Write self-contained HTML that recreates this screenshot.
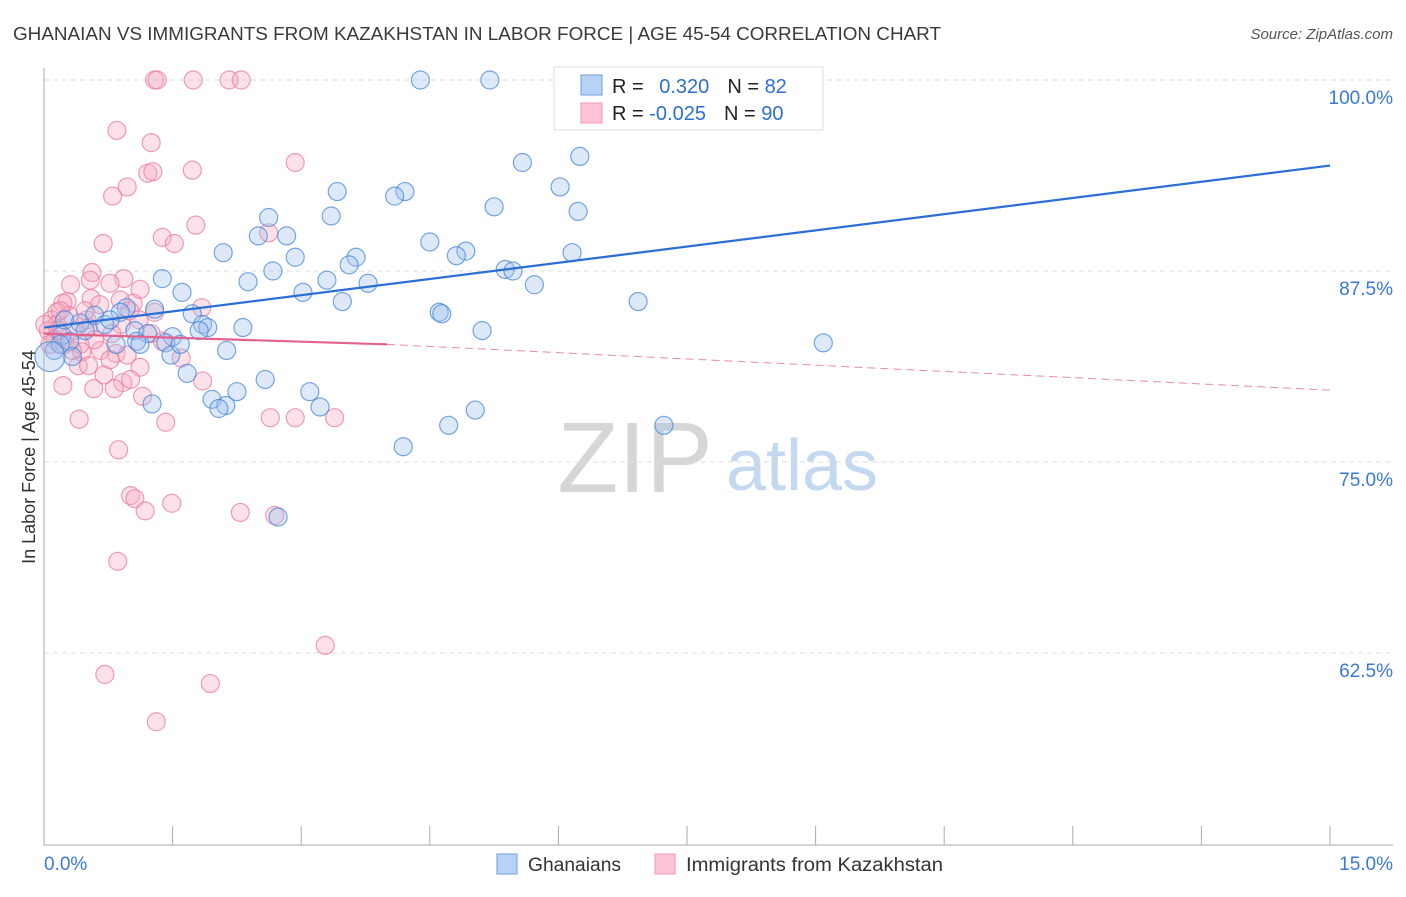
<!DOCTYPE html>
<html><head><meta charset="utf-8"><style>
body{margin:0;background:#fff;font-family:"Liberation Sans",sans-serif}
svg text{font-family:"Liberation Sans",sans-serif}
</style></head><body>
<svg id="chart" width="1406" height="892">
<text x="13" y="40" font-size="18.5" fill="#3a3a3a" textLength="928" lengthAdjust="spacingAndGlyphs">GHANAIAN VS IMMIGRANTS FROM KAZAKHSTAN IN LABOR FORCE | AGE 45-54 CORRELATION CHART</text>
<text x="1393" y="39" font-size="15" fill="#555" font-style="italic" text-anchor="end">Source: ZipAtlas.com</text>
<g><text x="635" y="492" font-size="100" fill="#d6d6d6" font-family="Liberation Serif" text-anchor="middle">ZIP</text><text x="802" y="490" font-size="72" fill="#c4d8f0" text-anchor="middle">atlas</text></g>
<g id="grid"></g><g id="axes"></g><g id="marks"></g>
<text transform="translate(35,457) rotate(-90)" font-size="18" fill="#333" text-anchor="middle">In Labor Force | Age 45-54</text>
<g>
<rect x="554" y="67" width="269" height="63" fill="#fff" stroke="#ddd"/>
<rect x="581" y="75" width="21" height="20" fill="#b8d2f4" stroke="#6a9ee0"/>
<rect x="581" y="103" width="21" height="20" fill="#fcc4d4" stroke="#ef97b2"/>
<text x="612" y="93" font-size="20" fill="#222">R = <tspan fill="#2f6fd0" dx="10">0.320</tspan><tspan dx="18" fill="#222">N = </tspan><tspan fill="#2f6fd0">82</tspan></text>
<text x="612" y="120" font-size="20" fill="#222">R = <tspan fill="#2f6fd0">-0.025</tspan><tspan dx="18" fill="#222">N = </tspan><tspan fill="#2f6fd0">90</tspan></text>
</g>
<g>
<rect x="497" y="854" width="20" height="20" fill="#b8d2f4" stroke="#6a9ee0"/>
<text x="528" y="871" font-size="19" fill="#333" textLength="93" lengthAdjust="spacingAndGlyphs">Ghanaians</text>
<rect x="655" y="854" width="20" height="20" fill="#fcc4d4" stroke="#ef97b2"/>
<text x="686" y="871" font-size="19" fill="#333" textLength="257" lengthAdjust="spacingAndGlyphs">Immigrants from Kazakhstan</text>
</g>
</svg>
<script>
const xTicks=[0,1.5,3,4.5,6,7.5,9,10.5,12,13.5,15];
const yTicks=[100,87.5,75,62.5];
const yTickLabels=["100.0%","87.5%","75.0%","62.5%"];
const xEndLabels=["0.0%","15.0%"];
const blueX=[4.39,5.20,6.25,5.58,6.02,3.42,4.21,4.09,5.25,6.23,3.35,2.62,2.50,2.83,2.09,4.50,4.92,4.81,6.16,2.93,3.64,3.56,2.67,5.38,5.47,1.38,2.38,3.30,3.78,5.72,1.61,3.02,3.48,6.93,0.96,1.29,1.73,4.61,4.64,0.89,0.59,0.42,0.71,2.32,1.85,1.91,1.81,5.11,1.06,1.21,1.50,0.21,0.30,0.84,1.08,1.42,9.09,0.33,1.48,2.13,0.12,1.67,2.58,2.25,3.10,1.96,2.12,2.04,1.26,3.22,5.03,4.72,7.23,4.19,2.73,0.19,0.48,0.77,0.24,1.59,1.12,0.07];
const blueY=[100,100,95.0,94.6,93.0,92.7,92.7,92.4,91.7,91.4,91.1,91.0,89.8,89.8,88.7,89.4,88.8,88.5,88.7,88.4,88.4,87.9,87.5,87.6,87.5,87.0,86.8,86.9,86.7,86.6,86.1,86.1,85.5,85.5,85.1,85.0,84.7,84.8,84.7,84.8,84.6,84.1,84.0,83.8,84.0,83.8,83.6,83.6,83.6,83.4,83.2,83.3,82.9,82.7,82.9,82.8,82.8,81.9,82.0,82.3,82.3,80.8,80.4,79.6,79.6,79.1,78.7,78.5,78.8,78.6,78.4,77.4,77.4,76.0,71.4,82.7,83.6,84.3,84.3,82.7,82.7,81.9];
const pinkX=[1.29,1.32,1.74,2.16,2.30,0.85,1.25,2.93,1.21,1.27,1.73,0.97,0.80,1.77,1.38,1.52,0.69,2.62,0.56,0.93,0.31,0.77,0.55,0.27,0.22,1.04,1.84,1.29,0.29,0.15,0.09,0.50,0.90,1.11,0.52,0.15,0.05,0.79,1.25,1.38,0.84,0.66,0.44,0.97,1.60,1.12,0.40,0.52,0.70,0.22,0.92,1.85,1.01,0.58,1.15,0.82,1.42,0.41,2.64,2.93,3.39,0.87,1.01,1.06,1.18,1.49,2.29,2.69,0.86,3.28,0.71,1.94,1.31,0.19,0.36,0.59,0.13,0.07,0.24,0.42,0.65,1.00,0.48,0.16,0.33,0.77,0.01,0.89,0.54,1.12];
const pinkY=[100,100,100,100,100,96.7,95.9,94.6,93.9,94.0,94.1,93.0,92.4,90.5,89.7,89.3,89.3,90.0,87.4,87.0,86.6,86.7,85.7,85.5,85.4,85.4,85.1,84.8,84.6,84.8,84.3,84.3,84.0,84.3,83.8,84.0,83.6,83.4,83.4,82.9,82.1,82.3,82.2,82.0,81.8,81.2,81.3,81.3,80.7,80.0,80.2,80.3,80.4,79.8,79.3,79.8,77.6,77.8,77.9,77.9,77.9,75.8,72.8,72.6,71.8,72.3,71.7,71.5,68.5,63.0,61.1,60.5,58.0,84.9,83.6,83.0,83.0,82.7,82.7,82.7,85.3,84.9,84.9,83.6,82.3,81.7,84.0,85.6,86.9,86.3];
const blueTrendX=[0,15], blueTrendY=[83.8,94.4];
const pinkTrendX=[0,4.0,15], pinkTrendY=[83.4,82.7,79.7];

const X0=44,X1=1330,YTOP=80,YBOT=844;
const sx=v=>X0+(v-0)/15*(X1-X0);
const sy=v=>YBOT-(v-50)/50*(YBOT-YTOP);
const NS="http://www.w3.org/2000/svg";
function mk(tag,attrs,parent){const e=document.createElementNS(NS,tag);for(const k in attrs)e.setAttribute(k,attrs[k]);parent.appendChild(e);return e;}
const grid=document.getElementById('grid'),axes=document.getElementById('axes'),marks=document.getElementById('marks');
yTicks.forEach((t,i)=>{
 const l=mk('line',{x1:X0,x2:1393,y1:sy(t),y2:sy(t),stroke:'#dcdcdc','stroke-dasharray':'5,4'},grid);
 
 
 const tx=mk('text',{x:1393,y:sy(t)+24,'font-size':19,fill:'#3a78d4','text-anchor':'end'},axes);
 tx.textContent=yTickLabels[i];
 
 
});
const ya=mk('line',{x1:X0,x2:X0,y1:68,y2:YBOT+1,stroke:'#aaa'},axes);


const xa=mk('line',{x1:X0,x2:1393,y1:YBOT+1,y2:YBOT+1,stroke:'#aaa'},axes);


xTicks.forEach(t=>{
 const k=mk('line',{x1:sx(t),x2:sx(t),y1:826,y2:YBOT+1,stroke:'#aaa'},axes);
 
 
});
[[xTicks[0],'start',X0],[xTicks[xTicks.length-1],'end',1393]].forEach((d,i)=>{
 const tx=mk('text',{x:d[2],y:870,'font-size':19,fill:'#3a78d4','text-anchor':d[1]},axes);
 tx.textContent=xEndLabels[i];
 
 
});
function dots(xs,ys,fill,stroke,name){
 xs.forEach((x,i)=>{
  const big=(i===xs.length-1&&name==='ghanaian-point');
  const c=mk('circle',{cx:sx(x),cy:sy(ys[i]),r:big?15:9,fill:fill,'fill-opacity':0.35,stroke:stroke,'stroke-opacity':0.75,'stroke-width':1.2},marks);
  
  
 });
}
dots(pinkX,pinkY,'#f7a8c0','#e87ea0','kazakhstan-point');
dots(blueX,blueY,'#9dc0ee','#4a88d8','ghanaian-point');
const bl=mk('line',{x1:sx(blueTrendX[0]),y1:sy(blueTrendY[0]),x2:sx(blueTrendX[1]),y2:sy(blueTrendY[1]),stroke:'#2a6fd6','stroke-width':2.2},marks);


const pl=mk('line',{x1:sx(pinkTrendX[0]),y1:sy(pinkTrendY[0]),x2:sx(pinkTrendX[1]),y2:sy(pinkTrendY[1]),stroke:'#e4608e','stroke-width':2.2},marks);


const pd=mk('line',{x1:sx(pinkTrendX[1]),y1:sy(pinkTrendY[1]),x2:sx(pinkTrendX[2]),y2:sy(pinkTrendY[2]),stroke:'#e88aaa','stroke-width':1,'stroke-dasharray':'8,5'},marks);


</script>
</body></html>
